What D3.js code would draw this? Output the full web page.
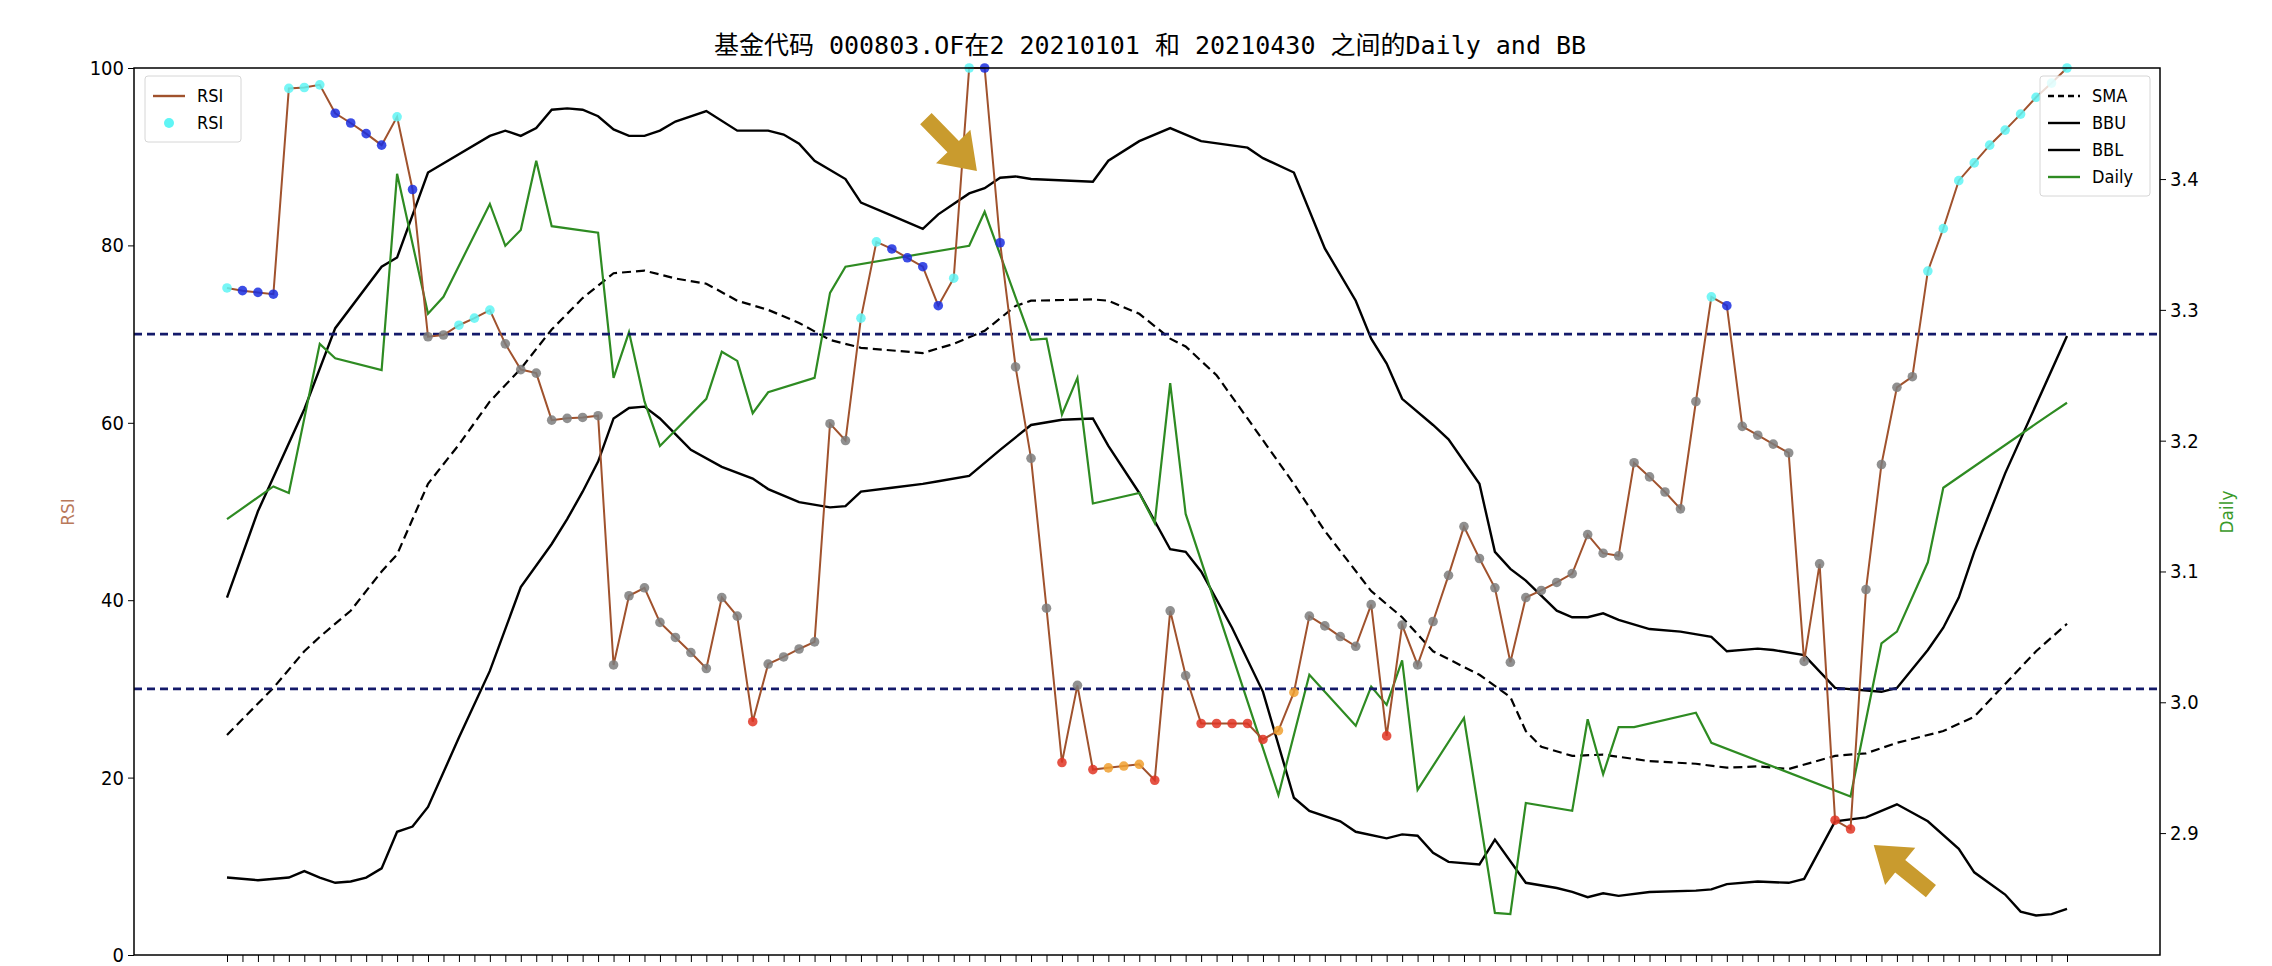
<!DOCTYPE html>
<html>
<head>
<meta charset="utf-8">
<script src="https://cdn.jsdelivr.net/npm/d3@7/dist/d3.min.js"></script>
<style>
  body { margin: 0; background: #fff; }
  text { font-family: "Liberation Sans Narrow", "DejaVu Sans Condensed", sans-serif; }
</style>
</head>
<body>
<svg id="chart" width="2272" height="966"></svg>
<script>
// RSI, one value per calendar day (2021-01-01 .. 2021-04-30)
var rsi = [75.2,74.9,74.7,74.5,97.7,97.8,98.1,94.9,93.8,92.6,91.3,94.5,86.3,69.7,69.9,71.0,71.8,72.7,68.9,66.0,
  65.6,60.3,60.5,60.6,60.8,32.7,40.5,41.4,37.5,35.8,34.1,32.3,40.3,38.2,26.3,32.8,33.6,34.5,35.3,59.9,
  58.0,71.8,80.4,79.6,78.6,77.6,73.2,76.3,100,100,80.3,66.3,56.0,39.1,21.7,30.4,20.9,21.1,21.3,21.5,
  19.7,38.8,31.5,26.1,26.1,26.1,26.1,24.3,25.3,29.6,38.2,37.1,35.9,34.8,39.5,24.7,37.2,32.7,37.6,42.8,
  48.3,44.7,41.4,33.0,40.3,41.1,42.0,43.0,47.4,45.3,45.0,55.5,53.9,52.2,50.3,62.4,74.2,73.2,59.6,58.6,
  57.6,56.6,33.1,44.1,15.2,14.2,41.2,55.3,64.0,65.2,77.1,81.9,87.3,89.3,91.3,93.0,94.8,96.7,98.3,100];

// [day, value] on the right axis
var daily = [[0,3.140],[3,3.165],[4,3.160],[6,3.274],[7,3.263],[10,3.254],[11,3.404],[13,3.297],[14,3.310],[17,3.381],
  [18,3.349],[19,3.361],[20,3.414],[21,3.364],[24,3.359],[25,3.248],[26,3.283],[27,3.230],[28,3.196],[31,3.232],
  [32,3.268],[33,3.261],[34,3.221],[35,3.237],[38,3.248],[39,3.313],[40,3.333],[48,3.349],[49,3.375],[52,3.277],
  [53,3.278],[54,3.220],[55,3.248],[56,3.152],[59,3.160],[60,3.137],[61,3.244],[62,3.144],[68,2.929],[70,3.021],
  [73,2.982],[74,3.012],[75,2.998],[76,3.032],[77,2.933],[80,2.988],[82,2.839],[83,2.838],[84,2.923],[87,2.917],
  [88,2.987],[89,2.945],[90,2.981],[91,2.981],[95,2.992],[96,2.969],[105,2.928],[107,3.045],[108,3.054],[110,3.107],
  [111,3.164],[117,3.213],[118,3.221],[119,3.229]];

var sma = [[0,2.975],[3,3.011],[5,3.039],[6,3.050],[8,3.070],[10,3.100],[11,3.113],[13,3.167],[15,3.197],[17,3.230],
  [19,3.255],[21,3.285],[23,3.309],[25,3.328],[27,3.330],[29,3.324],[31,3.320],[33,3.307],[35,3.300],[37,3.290],
  [39,3.277],[41,3.271],[45,3.267],[47,3.274],[49,3.284],[51,3.303],[52,3.307],[56,3.308],[57,3.307],[59,3.297],
  [61,3.278],[62,3.272],[64,3.250],[66,3.217],[69,3.167],[71,3.131],[74,3.085],[76,3.065],[78,3.039],[81,3.021],
  [83,3.004],[84,2.978],[85,2.966],[87,2.959],[89,2.960],[92,2.955],[95,2.953],[97,2.950],[99,2.951],[101,2.949],
  [104,2.959],[106,2.961],[108,2.969],[111,2.978],[113,2.989],[115,3.014],[117,3.039],[119,3.060]];

var bbu = [[0,3.080],[2,3.146],[5,3.224],[7,3.286],[10,3.333],[11,3.340],[13,3.405],[17,3.433],[18,3.437],[19,3.433],
  [20,3.439],[21,3.453],[22,3.454],[23,3.453],[24,3.448],[25,3.438],[26,3.433],[27,3.433],[28,3.437],[29,3.444],
  [31,3.452],[33,3.437],[35,3.437],[36,3.434],[37,3.427],[38,3.414],[40,3.400],[41,3.382],[43,3.372],[45,3.362],
  [46,3.373],[48,3.389],[49,3.393],[50,3.401],[51,3.402],[52,3.400],[56,3.398],[57,3.414],[59,3.429],[61,3.439],
  [63,3.429],[66,3.424],[67,3.416],[69,3.405],[71,3.347],[73,3.307],[74,3.278],[75,3.259],[76,3.232],[78,3.212],
  [79,3.201],[81,3.167],[82,3.115],[83,3.102],[84,3.093],[86,3.070],[87,3.065],[88,3.065],[89,3.068],[90,3.063],
  [92,3.056],[94,3.054],[96,3.050],[97,3.039],[99,3.041],[100,3.040],[102,3.036],[104,3.011],[107,3.008],[108,3.011],
  [110,3.040],[111,3.057],[112,3.080],[113,3.115],[115,3.175],[119,3.280]];

var bbl = [[0,2.866],[2,2.864],[4,2.866],[5,2.871],[6,2.866],[7,2.862],[8,2.863],[9,2.866],[10,2.873],[11,2.901],
  [12,2.905],[13,2.920],[15,2.973],[17,3.024],[19,3.088],[21,3.121],[22,3.140],[23,3.161],[24,3.184],[25,3.217],
  [26,3.225],[27,3.226],[28,3.217],[29,3.205],[30,3.193],[32,3.180],[34,3.171],[35,3.163],[37,3.153],[39,3.149],
  [40,3.150],[41,3.161],[43,3.164],[45,3.167],[46,3.169],[48,3.173],[50,3.193],[52,3.212],[54,3.216],[56,3.217],
  [57,3.196],[59,3.160],[61,3.117],[62,3.115],[63,3.100],[65,3.057],[67,3.008],[69,2.927],[70,2.917],[72,2.909],
  [73,2.901],[75,2.896],[76,2.899],[77,2.898],[78,2.885],[79,2.878],[81,2.876],[82,2.895],[84,2.862],[86,2.858],
  [87,2.855],[88,2.851],[89,2.854],[90,2.852],[92,2.855],[95,2.856],[96,2.857],[97,2.861],[99,2.863],[101,2.862],
  [102,2.865],[104,2.909],[106,2.912],[108,2.922],[110,2.909],[112,2.888],[113,2.870],[115,2.853],[116,2.840],[117,2.837],
  [118,2.838],[119,2.842]];

var leftTicks = [0, 20, 40, 60, 80, 100];
var rightTicks = [2.9, 3.0, 3.1, 3.2, 3.3, 3.4];
var levels = [30, 70];
// arrow annotations: [fromDay, fromRsi, toDay, toRsi]
var arrows = [[45.2, 94.3, 48.5, 88.4], [110.2, 7.2, 106.5, 12.4]];

var titleText = "基金代码 000803.OF在2 20210101 和 20210430 之间的Daily and BB";

var svg = d3.select("#chart");
var L = 134, R = 2160, T = 68, B = 955;

var x = d3.scaleLinear().domain([0, 119]).range([227, 2067]);
var yL = d3.scaleLinear().domain([0, 100]).range([B, T]);
var yR = d3.scaleLinear().domain([2.8068, 3.4849]).range([B, T]);

svg.append("text").attr("x", 1150).attr("y", 54).attr("text-anchor", "middle")
  .style("font-family", "'DejaVu Sans Mono', 'Noto Sans CJK SC', monospace").style("font-size", "25px")
  .text(titleText);

var clip = svg.append("defs").append("clipPath").attr("id", "clip");
clip.append("rect").attr("x", L).attr("y", T - 8).attr("width", R - L).attr("height", B - T + 8);
var g = svg.append("g").attr("clip-path", "url(#clip)");

var lineR = d3.line().x(function (d) { return x(d[0]); }).y(function (d) { return yR(d[1]); });

g.append("path").datum(sma).attr("d", lineR).attr("fill", "none").attr("stroke", "#000")
  .attr("stroke-width", 2.2).attr("stroke-dasharray", "9,5");
g.append("path").datum(bbu).attr("d", lineR).attr("fill", "none").attr("stroke", "#000").attr("stroke-width", 2.4);
g.append("path").datum(bbl).attr("d", lineR).attr("fill", "none").attr("stroke", "#000").attr("stroke-width", 2.4);
g.append("path").datum(daily).attr("d", lineR).attr("fill", "none").attr("stroke", "#2e8b22").attr("stroke-width", 2.2);

g.selectAll("line.lvl").data(levels).enter().append("line")
  .attr("x1", L).attr("x2", R).attr("y1", function (d) { return yL(d); }).attr("y2", function (d) { return yL(d); })
  .attr("stroke", "#141a6a").attr("stroke-width", 2.6).attr("stroke-dasharray", "8,5");

var lineL = d3.line().x(function (d, i) { return x(i); }).y(function (d) { return yL(d); });
g.append("path").datum(rsi).attr("d", lineL).attr("fill", "none").attr("stroke", "#a0522d").attr("stroke-width", 2);

function dotColor(v, i) {
  var up = i === 0 || v > rsi[i - 1];
  if (v > 70) return up ? "#5ff5f5" : "#1a2ee0";
  if (v < 30) return up ? "#f0a030" : "#e03525";
  return "#7d7d7d";
}
g.selectAll("circle.rsi").data(rsi).enter().append("circle")
  .attr("cx", function (d, i) { return x(i); }).attr("cy", function (d) { return yL(d); })
  .attr("r", 4.8).attr("fill", function (d, i) { return dotColor(d, i); }).attr("opacity", 0.85);

// arrows
arrows.forEach(function (a) {
  var x0 = x(a[0]), y0 = yL(a[1]), x1 = x(a[2]), y1 = yL(a[3]);
  var dx = x1 - x0, dy = y1 - y0, len = Math.sqrt(dx * dx + dy * dy);
  var ux = dx / len, uy = dy / len, px = -uy, py = ux;
  var hl = 34, hw = 24, sw = 8;
  var bx = x1 - ux * hl, by = y1 - uy * hl;
  var pts = [[x0 + px * sw, y0 + py * sw], [bx + px * sw, by + py * sw], [bx + px * hw, by + py * hw], [x1, y1],
    [bx - px * hw, by - py * hw], [bx - px * sw, by - py * sw], [x0 - px * sw, y0 - py * sw]];
  svg.append("polygon").attr("points", pts.map(function (p) { return p.join(","); }).join(" "))
    .attr("fill", "#c99b2e");
});

// frame
svg.append("rect").attr("x", L).attr("y", T).attr("width", R - L).attr("height", B - T)
  .attr("fill", "none").attr("stroke", "#000").attr("stroke-width", 1.5);

var axL = svg.append("g").attr("transform", "translate(" + L + ",0)")
  .call(d3.axisLeft(yL).tickValues(leftTicks).tickSize(6).tickPadding(4));
var axR = svg.append("g").attr("transform", "translate(" + R + ",0)")
  .call(d3.axisRight(yR).tickValues(rightTicks).tickFormat(d3.format(".1f")).tickSize(6).tickPadding(4));
var axB = svg.append("g").attr("transform", "translate(0," + B + ")")
  .call(d3.axisBottom(x).tickValues(d3.range(120)).tickFormat("").tickSize(7));
[axL, axR, axB].forEach(function (a) {
  a.select(".domain").remove();
  a.selectAll("text").style("font-size", "20px").attr("fill", "#000");
});

svg.append("text").attr("transform", "translate(74,512) rotate(-90)").attr("text-anchor", "middle")
  .style("font-family", "'DejaVu Sans', sans-serif").style("font-size", "17px").attr("fill", "#b9795b").text("RSI");
svg.append("text").attr("transform", "translate(2233,512) rotate(-90)").attr("text-anchor", "middle")
  .style("font-family", "'DejaVu Sans', sans-serif").style("font-size", "17px").attr("fill", "#3a9a2a").text("Daily");

// legends
function legend(x0, y0, w, items) {
  var lg = svg.append("g").attr("transform", "translate(" + x0 + "," + y0 + ")");
  lg.append("rect").attr("width", w).attr("height", 12 + items.length * 27).attr("rx", 3)
    .attr("fill", "#fff").attr("fill-opacity", 0.8).attr("stroke", "#d6d6d6");
  items.forEach(function (it, i) {
    var yy = 20 + i * 27;
    if (it.dot) {
      lg.append("circle").attr("cx", 24).attr("cy", yy).attr("r", 5).attr("fill", it.color);
    } else {
      lg.append("line").attr("x1", 8).attr("x2", 40).attr("y1", yy).attr("y2", yy)
        .attr("stroke", it.color).attr("stroke-width", 2.4).attr("stroke-dasharray", it.dash || null);
    }
    lg.append("text").attr("x", 52).attr("y", yy + 6).style("font-size", "18px")
      .style("font-family", "'DejaVu Sans Condensed', 'Liberation Sans Narrow', sans-serif").text(it.name);
  });
}
legend(145, 76, 96, [{ name: "RSI", color: "#a0522d" }, { name: "RSI", color: "#5ff5f5", dot: true }]);
legend(2040, 76, 110, [{ name: "SMA", color: "#000", dash: "6,4" }, { name: "BBU", color: "#000" },
  { name: "BBL", color: "#000" }, { name: "Daily", color: "#2e8b22" }]);
</script>
</body>
</html>
